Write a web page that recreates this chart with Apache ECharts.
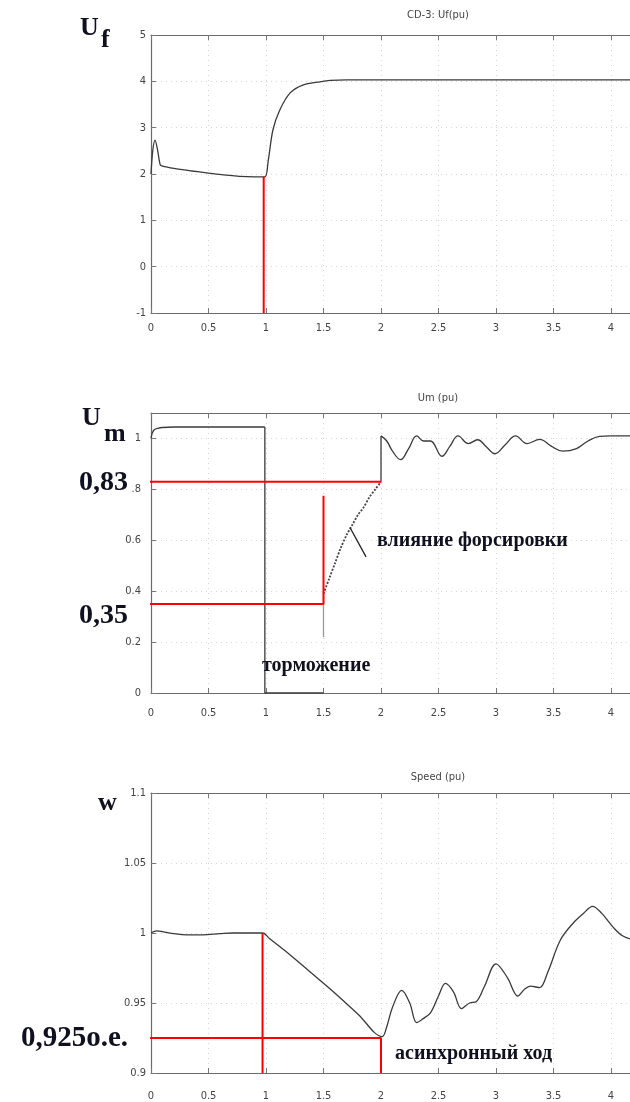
<!DOCTYPE html>
<html>
<head>
<meta charset="utf-8">
<script src="https://cdn.jsdelivr.net/npm/echarts@6/dist/echarts.min.js"></script>
<style>
  html, body { margin: 0; padding: 0; background: #fff; }
  #chart { width: 630px; height: 1102px; }
</style>
</head>
<body>
<div id="chart"></div>
<script>
// time axis ticks (s)
const timeTicks = [0, 0.5, 1, 1.5, 2, 2.5, 3, 3.5, 4, 4.5, 5];

// Uf (pu) - excitation voltage
const ufT = [0, 0.015, 0.035, 0.055, 0.08, 0.1, 0.2, 0.34, 0.5, 0.63, 0.77, 0.9, 0.99, 1.02, 1.06, 1.12, 1.21, 1.32, 1.47, 1.56, 1.7, 2.0, 3.0, 4.0, 4.25];
const ufV = [2.0, 2.5, 2.73, 2.55, 2.2, 2.17, 2.12, 2.07, 2.02, 1.98, 1.95, 1.94, 1.94, 2.3, 2.95, 3.38, 3.75, 3.92, 3.99, 4.02, 4.03, 4.03, 4.03, 4.03, 4.03];

// Um (pu) - terminal voltage, split into pieces
const umHoldT = [0, 0.01, 0.03, 0.06, 0.1, 0.2, 0.5, 0.8, 0.99];
const umHoldV = [1.0, 1.02, 1.035, 1.04, 1.043, 1.045, 1.045, 1.045, 1.045];
const umStepT = [0.99, 0.99, 1.5, null, 2.0, 2.0];
const umStepV = [1.045, 0, 0, null, 0.83, 1.01];
const umGapT = [1.5, 1.5];
const umGapV = [0.22, 0.39];
const umForceT = [1.5, 1.55, 1.6, 1.65, 1.7, 1.75, 1.8, 1.85, 1.9, 1.95, 2.0];
const umForceV = [0.39, 0.45, 0.51, 0.57, 0.62, 0.66, 0.70, 0.73, 0.77, 0.80, 0.83];
const umSwingT = [2.0, 2.05, 2.1, 2.17, 2.24, 2.31, 2.37, 2.43, 2.53, 2.6, 2.67, 2.76, 2.84, 2.92, 2.99, 3.08, 3.17, 3.27, 3.38, 3.48, 3.58, 3.7, 3.8, 3.9, 4.0, 4.25];
const umSwingV = [1.01, 0.99, 0.95, 0.917, 0.96, 1.01, 0.99, 0.99, 0.93, 0.97, 1.01, 0.98, 0.995, 0.965, 0.94, 0.975, 1.01, 0.98, 0.996, 0.97, 0.95, 0.96, 0.99, 1.008, 1.01, 1.01];

// Speed (pu)
const spT = [0, 0.05, 0.1, 0.2, 0.31, 0.45, 0.6, 0.71, 0.85, 0.97, 1.03, 1.2, 1.4, 1.6, 1.8, 2.01, 2.05, 2.1, 2.18, 2.25, 2.31, 2.37, 2.43, 2.5, 2.56, 2.63, 2.7, 2.77, 2.83, 2.9, 3.0, 3.1, 3.19, 3.25, 3.3, 3.38, 3.45, 3.56, 3.67, 3.76, 3.84, 3.92, 4.02, 4.1, 4.2];
const spV = [1.0, 1.0015, 1.001, 0.9995, 0.9986, 0.9987, 0.9995, 1.0, 1.0, 1.0, 0.996, 0.985, 0.971, 0.957, 0.942, 0.926, 0.933, 0.947, 0.959, 0.95, 0.936, 0.939, 0.943, 0.955, 0.964, 0.958, 0.946, 0.95, 0.951, 0.962, 0.978, 0.968, 0.955, 0.96, 0.962, 0.961, 0.972, 0.995, 1.007, 1.014, 1.019, 1.014, 1.004, 0.998, 0.995];

// red guide lines
const ufMarkT = [0.98, 0.98];
const ufMarkV = [-1, 1.94];
const umMarkT = [-0.02, 2.0, null, 1.5, 1.5, -0.02];
const umMarkV = [0.83, 0.83, null, 0.775, 0.35, 0.35];
const spMarkT = [0.97, 0.97, null, -0.02, 2.0, 2.0];
const spMarkV = [0.9, 1.0, null, 0.925, 0.925, 0.9];
// leader line to "влияние форсировки"
const leadT = [1.73, 1.87];
const leadV = [0.65, 0.535];

// y ranges per panel
const ufRange = { min: -1, max: 5, interval: 1 };
const umRange = { min: 0, max: 1.1, interval: 0.2 };
const spRange = { min: 0.9, max: 1.1, interval: 0.05 };

const zip = (t, v) => t.map((x, i) => (v[i] === null ? '-' : [x, v[i]]));
const fmt = v => String(+v.toFixed(3));

const tickFont = '"Liberation Sans Narrow", "DejaVu Sans Condensed", sans-serif';
const serif = '"Liberation Serif", "DejaVu Serif", serif';
const inkColor = '#10101e';

const chart = echarts.init(document.getElementById('chart'), null, { renderer: 'canvas' });

const gridTops = [35, 413, 793];
const gridHeights = [278, 280, 280];
const labelMargins = [10, 15, 18];
const yMargins = [5, 10, 5];

// plot runs past the right edge of the picture (cropped at t ~ 4.17)
const grid = gridTops.map((top, i) => ({
  left: 151, top: top, width: 575, height: gridHeights[i],
  outerBoundsMode: 'none', containLabel: false
}));

const xAxis = [];
gridTops.forEach((_, i) => {
  xAxis.push({
    type: 'value', gridIndex: i, min: timeTicks[0], max: timeTicks[timeTicks.length - 1], interval: 0.5,
    axisLine: { show: true, onZero: false, lineStyle: { color: '#6a6a6a', width: 1.2 } },
    axisTick: { inside: true, length: 5, lineStyle: { color: '#777' } },
    axisLabel: {
      color: '#444', fontFamily: tickFont, fontSize: 11, margin: labelMargins[i],
      formatter: fmt
    },
    splitLine: { show: true, lineStyle: { color: '#d6d6d6', type: [1, 4] } }
  });
});
gridTops.forEach((_, i) => {
  xAxis.push({
    type: 'value', gridIndex: i, min: 0, max: 5, interval: 0.5, position: 'top',
    axisLine: { show: true, onZero: false, lineStyle: { color: '#6a6a6a', width: 1.2 } },
    axisTick: { inside: true, length: 5, lineStyle: { color: '#777' } },
    axisLabel: { show: false },
    splitLine: { show: false }
  });
});

const ranges = [ufRange, umRange, spRange];
const yAxis = ranges.map((r, i) => ({
  type: 'value', gridIndex: i, min: r.min, max: r.max, interval: r.interval,
  axisLine: { show: true, onZero: false, lineStyle: { color: '#6a6a6a', width: 1.2 } },
  axisTick: { show: true, inside: true, length: 5, lineStyle: { color: '#777' } },
  axisLabel: {
    color: '#444', fontFamily: tickFont, fontSize: 11, margin: yMargins[i],
    showMaxLabel: i !== 1,
    formatter: v => {
      if (i === 1) {
        if (Math.abs(v - 1.1) < 1e-6) return '';
        if (Math.abs(v - 0.8) < 1e-6) return '.8';
      }
      return fmt(v);
    }
  },
  splitLine: { show: true, lineStyle: { color: '#d6d6d6', type: [1, 4] } }
}));

const curve = (gi, data, extra) => Object.assign({
  type: 'line', xAxisIndex: gi, yAxisIndex: gi, data: data,
  showSymbol: false, symbol: 'none', animation: false, silent: true,
  lineStyle: { color: '#3a3a3a', width: 1.3 }
}, extra || {});

const red = (gi, data) => curve(gi, data, {
  clip: false, z: 5, lineStyle: { color: '#ff0000', width: 2 }
});

const series = [
  curve(0, zip(ufT, ufV), { smooth: 0.3 }),
  red(0, zip(ufMarkT, ufMarkV)),

  curve(1, zip(umHoldT, umHoldV), { smooth: 0.3 }),
  curve(1, zip(umStepT, umStepV)),
  curve(1, zip(umGapT, umGapV), { lineStyle: { color: '#9a9a9a', width: 1.3 } }),
  curve(1, zip(umForceT, umForceV), { smooth: 0.3, lineStyle: { color: '#444', width: 1.8, type: [2, 1.5] } }),
  curve(1, zip(umSwingT, umSwingV), { smooth: 0.4 }),
  curve(1, zip(leadT, leadV), { lineStyle: { color: '#222', width: 1.3 } }),
  red(1, zip(umMarkT, umMarkV)),

  curve(2, zip(spT, spV), { smooth: 0.35 }),
  red(2, zip(spMarkT, spMarkV))
];

const txt = (text, x, y, size, opts) => ({
  type: 'text', x: x, y: y, z: 10,
  style: Object.assign({
    text: text, fill: inkColor, font: 'bold ' + size + 'px ' + serif,
    textAlign: 'left', textVerticalAlign: 'middle'
  }, opts || {})
});
const small = (text, x, y) => ({
  type: 'text', x: x, y: y, z: 10,
  style: {
    text: text, fill: '#444', font: '11px ' + tickFont,
    textAlign: 'center', textVerticalAlign: 'middle'
  }
});

const graphic = [
  small('CD-3: Uf(pu)', 438, 15),
  small('Um (pu)', 438, 398),
  small('Speed (pu)', 438, 777),

  txt('U', 80, 28, 26),
  txt('f', 101, 40, 26),
  txt('U', 82, 418, 26),
  txt('m', 104, 434, 26),
  txt('0,83', 128, 483, 28, { textAlign: 'right' }),
  txt('0,35', 128, 616, 28, { textAlign: 'right' }),
  txt('w', 98, 803, 26),
  txt('0,925o.e.', 128, 1039, 29, { textAlign: 'right' }),

  txt('влияние форсировки', 377, 541, 20),
  txt('торможение', 262, 666, 20),
  txt('асинхронный ход', 395, 1054, 20)
];

chart.setOption({
  backgroundColor: '#fff',
  animation: false,
  grid: grid,
  xAxis: xAxis,
  yAxis: yAxis,
  series: series,
  graphic: graphic
});
</script>
</body>
</html>
